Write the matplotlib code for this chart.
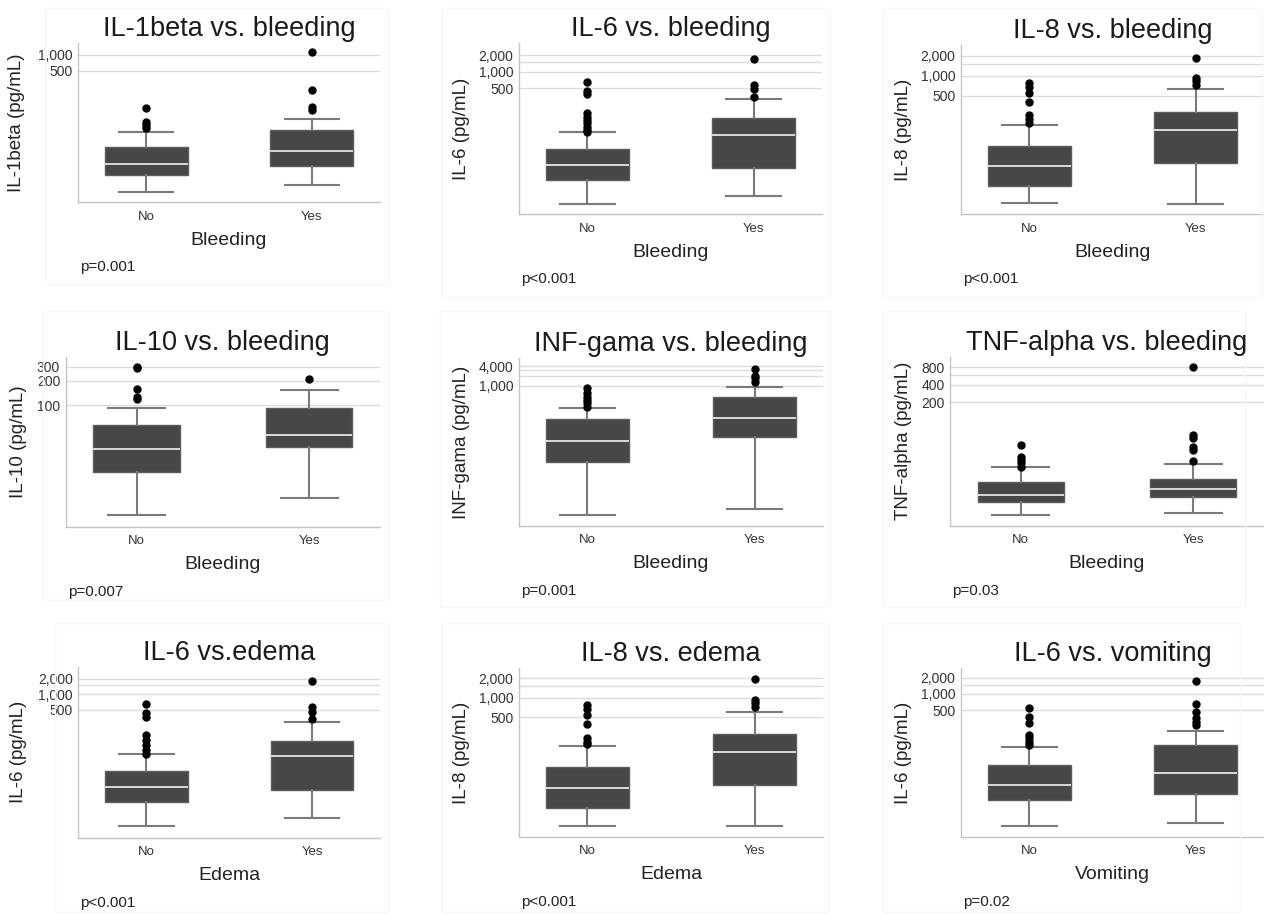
import matplotlib
matplotlib.use("Agg")
import matplotlib.pyplot as plt
from matplotlib.patches import Rectangle
from matplotlib.ticker import FixedLocator, FixedFormatter, NullLocator

plt.rcParams['font.family'] = ['Liberation Sans', 'DejaVu Sans']

# ---------------- data ----------------
categories = ["No", "Yes"]

titles = ["IL-1beta vs. bleeding", "IL-6 vs. bleeding", "IL-8 vs. bleeding",
          "IL-10 vs. bleeding", "INF-gama vs. bleeding", "TNF-alpha vs. bleeding",
          "IL-6 vs.edema", "IL-8 vs. edema", "IL-6 vs. vomiting"]
ylabels = ["IL-1beta (pg/mL)", "IL-6 (pg/mL)", "IL-8 (pg/mL)",
           "IL-10 (pg/mL)", "INF-gama (pg/mL)", "TNF-alpha (pg/mL)",
           "IL-6 (pg/mL)", "IL-8 (pg/mL)", "IL-6 (pg/mL)"]
xlabels = ["Bleeding", "Bleeding", "Bleeding",
           "Bleeding", "Bleeding", "Bleeding",
           "Edema", "Edema", "Vomiting"]
pvalues = ["p=0.001", "p<0.001", "p<0.001",
           "p=0.007", "p=0.001", "p=0.03",
           "p<0.001", "p<0.001", "p=0.02"]

# y grid values and their labels
grid_values = [[500, 1000], [500, 1000, 1500, 2000], [500, 1000, 1500, 2000],
               [100, 200, 300], [1000, 2000, 3000, 4000], [200, 400, 600, 800],
               [500, 1000, 1500, 2000], [500, 1000, 1500, 2000], [500, 1000, 1500, 2000]]
grid_labels = [["500", "1,000"], ["500", "1,000", "", "2,000"], ["500", "1,000", "", "2,000"],
               ["100", "200", "300"], ["1,000", "", "", "4,000"], ["200", "400", "", "800"],
               ["500", "1,000", "", "2,000"], ["500", "1,000", "", "2,000"], ["500", "1,000", "", "2,000"]]

# box stats: [whisker low, Q1, median, Q3, whisker high]
il1b_no = [2.6, 5.6, 8.9, 18.5, 35]
il1b_no_out = [41.7, 48, 55.6, 102]
il1b_yes = [3.5, 8.2, 15.6, 38.8, 62.5]
il1b_yes_out = [92, 103, 220, 1124]

il6_bleed_no = [4.0, 10.9, 20.3, 39.2, 80]
il6_bleed_no_out = [81, 88, 100, 116, 133, 153, 176, 389, 452, 659]
il6_bleed_yes = [5.6, 18.2, 71, 143, 316]
il6_bleed_yes_out = [352, 480, 574, 1680]

il8_bleed_no = [12.1, 22.2, 44.4, 88.7, 182]
il8_bleed_no_out = [197, 221, 257, 407, 555, 670, 785]
il8_bleed_yes = [11.8, 48.3, 153, 285, 625]
il8_bleed_yes_out = [725, 833, 914, 1865]

il10_no = [4.4, 15, 28.5, 56.6, 91.8]
il10_no_out = [120, 128, 158, 287, 300]
il10_yes = [7.1, 30.2, 42.9, 92, 155]
il10_yes_out = [213]

ifng_no = [0.129, 5.0, 21.9, 99, 212]
ifng_no_out = [238, 301, 378, 476, 602, 852]
ifng_yes = [0.19, 29.6, 111, 466, 953]
ifng_yes_out = [1350, 1710, 2000, 3256]

tnf_no = [2.3, 3.84, 5.2, 8.5, 15.3]
tnf_no_out = [15.6, 17.9, 20.4, 23.3, 37]
tnf_yes = [2.5, 4.7, 6.4, 9.8, 17.5]
tnf_yes_out = [19.7, 30.4, 34.6, 48.2, 55, 817]

il6_edema_no = [3.0, 8.7, 16.7, 34.3, 70.7]
il6_edema_no_out = [72.6, 85.5, 107, 133, 166, 372, 432, 643]
il6_edema_yes = [4.2, 14.6, 65.6, 129, 298]
il6_edema_yes_out = [332, 464, 563, 1800]

il8_edema_no = [10.9, 20.5, 40.7, 86.4, 181]
il8_edema_no_out = [193, 211, 243, 390, 543, 664, 773]
il8_edema_yes = [10.9, 45.7, 148, 277, 610]
il8_edema_yes_out = [728, 820, 922, 1916]

il6_vomit_no = [3.3, 10, 19.7, 46.2, 102]
il6_vomit_no_out = [110, 127, 147, 169, 289, 374, 553]
il6_vomit_yes = [3.7, 13, 32.3, 110, 204]
il6_vomit_yes_out = [261, 302, 349, 465, 640, 1756]

panels_stats = [
    (il1b_no, il1b_no_out, il1b_yes, il1b_yes_out),
    (il6_bleed_no, il6_bleed_no_out, il6_bleed_yes, il6_bleed_yes_out),
    (il8_bleed_no, il8_bleed_no_out, il8_bleed_yes, il8_bleed_yes_out),
    (il10_no, il10_no_out, il10_yes, il10_yes_out),
    (ifng_no, ifng_no_out, ifng_yes, ifng_yes_out),
    (tnf_no, tnf_no_out, tnf_yes, tnf_yes_out),
    (il6_edema_no, il6_edema_no_out, il6_edema_yes, il6_edema_yes_out),
    (il8_edema_no, il8_edema_no_out, il8_edema_yes, il8_edema_yes_out),
    (il6_vomit_no, il6_vomit_no_out, il6_vomit_yes, il6_vomit_yes_out),
]

y_limits = [(1.69, 1660), (2.6, 3270), (8.3, 2890),
            (3.15, 399), (0.061, 6850), (1.52, 1213),
            (1.78, 3380), (7.4, 2830), (2.08, 3040)]

# ---------------- layout (pixels) ----------------
W, H = 1264, 915
axes_px = [(78, 380, 43.3, 202.3), (519, 822, 43.3, 214.3), (961, 1264, 45, 214.3),
           (65.7, 380, 356.7, 526.7), (519, 823, 358.3, 525.7), (950, 1264, 356.7, 525.7),
           (78.3, 380, 666.7, 837.7), (519, 823, 668.3, 836.7), (961, 1264, 668.3, 836.7)]
ylabel_offset = [61, 57, 58, 47, 57, 47, 60, 57, 58]
cards_px = [(45, 388, 8, 284), (442, 830, 8, 297), (883, 1262, 8, 297),
            (43, 388, 311, 600), (440, 830, 311, 607), (883, 1245, 311, 607),
            (55, 388, 623, 912), (442, 828, 623, 912), (883, 1240, 623, 912)]

fig = plt.figure(figsize=(W / 100, H / 100), dpi=100)
fig.patch.set_facecolor("white")

def fx(px):
    return px / W

def fy(py):
    return 1 - py / H

for (l, r, t, b) in cards_px:
    fig.patches.append(Rectangle((fx(l), fy(b)), fx(r) - fx(l), fy(t) - fy(b),
                                 transform=fig.transFigure, fill=False,
                                 edgecolor="#f7f7f7", linewidth=1.0, zorder=0))

for i in range(9):
    l, r, t, b = axes_px[i]
    ax = fig.add_axes([fx(l), fy(b), (r - l) / W, (b - t) / H])
    no_s, no_o, yes_s, yes_o = panels_stats[i]
    stats = []
    for s, o, lab in ((no_s, no_o, categories[0]), (yes_s, yes_o, categories[1])):
        stats.append(dict(whislo=s[0], q1=s[1], med=s[2], q3=s[3], whishi=s[4],
                          fliers=o, label=lab))
    ax.bxp(stats, positions=[1, 2], widths=0.5, capwidths=0.33, patch_artist=True,
           boxprops=dict(facecolor="#474747", edgecolor="#5c5c5c", linewidth=1.0),
           medianprops=dict(color="#d9d9d9", linewidth=1.4),
           whiskerprops=dict(color="#7a7a7a", linewidth=1.5),
           capprops=dict(color="#7a7a7a", linewidth=1.5),
           flierprops=dict(marker="o", markersize=5, markerfacecolor="black",
                           markeredgecolor="black", linestyle="none"))
    ax.set_yscale("log")
    ax.set_ylim(*y_limits[i])
    ax.set_xlim(0.59, 2.41)
    ax.yaxis.set_major_locator(FixedLocator(grid_values[i]))
    ax.yaxis.set_major_formatter(FixedFormatter(grid_labels[i]))
    ax.yaxis.set_minor_locator(NullLocator())
    ax.grid(axis="y", color="#dcdcdc", linewidth=1.0)
    ax.set_axisbelow(True)
    for sp in ("top", "right"):
        ax.spines[sp].set_visible(False)
    for sp in ("left", "bottom"):
        ax.spines[sp].set_color("#c4c4c4")
        ax.spines[sp].set_linewidth(1.0)
    ax.tick_params(axis="y", length=0, pad=4, labelsize=10, labelcolor="#333333")
    ax.tick_params(axis="x", length=0, pad=6, labelsize=9.5, labelcolor="#333333")
    ax.set_xticks([1, 2])
    ax.set_xticklabels(categories)

    cx = (l + r) / 2
    fig.text(fx(cx), fy(t - 7), titles[i], ha="center", va="baseline",
             fontsize=19.5, color="#1a1a1a")
    fig.text(fx(l - ylabel_offset[i]), fy((t + b) / 2), ylabels[i], rotation=90,
             ha="center", va="center", fontsize=13.5, color="#222222")
    fig.text(fx(cx), fy(b + 38), xlabels[i], ha="center", va="center",
             fontsize=14, color="#222222")
    fig.text(fx(l + 2), fy(b + 65), pvalues[i], ha="left", va="center",
             fontsize=11, color="#222222")

fig.savefig("out.png", dpi=100, facecolor="white")
